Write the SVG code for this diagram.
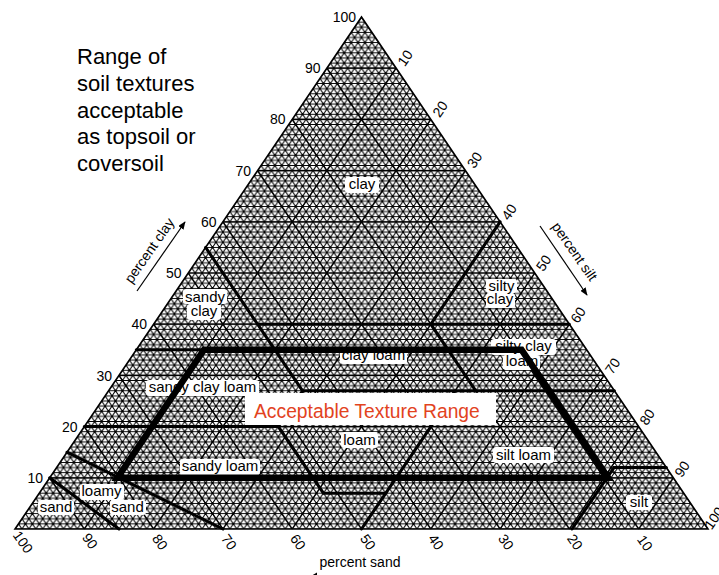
<svg xmlns="http://www.w3.org/2000/svg" width="719" height="575" viewBox="0 0 719 575">
<style>
.grid{stroke:#000;stroke-width:1.2;fill:none}
.bnd{stroke:#000;stroke-width:3;fill:none;stroke-linecap:round}
.acc{stroke:#000;stroke-width:6.5;fill:none;stroke-linejoin:miter}
.num{font-family:"Liberation Sans",Arial,sans-serif;font-size:14px;fill:#000}
.lbl{font-family:"Liberation Sans",Arial,sans-serif;font-size:15px;fill:#000;text-anchor:middle}
.ax{font-family:"Liberation Sans",Arial,sans-serif;font-size:14px;fill:#000;text-anchor:middle}
.bg{fill:#fff}
.title{font-family:"Liberation Sans",Arial,sans-serif;font-size:22px;fill:#000}
</style>
<defs>
<pattern id="mesh" patternUnits="userSpaceOnUse" x="15" y="529" width="6.93" height="10.24">
<path d="M-1,0H8 M-1,5.12H8 M-1,10.24H8 M-6.93,10.24L6.93,-10.24 M-6.93,20.48L13.86,-10.24 M0,20.48L13.86,0 M-6.93,-10.24L13.86,20.48 M0,-10.24L13.86,10.24 M-6.93,0L6.93,20.48" stroke="#000" stroke-width="1.05" fill="none"/>
</pattern>
<marker id="ah" viewBox="0 0 10 8" refX="9" refY="4" markerWidth="8" markerHeight="6.4" markerUnits="userSpaceOnUse" orient="auto">
<path d="M0,0L10,4L0,8z" fill="#000"/>
</marker>
</defs>
<rect width="719" height="575" fill="#fff"/>

<g id="title">
<text class="title" x="77" y="64">Range of</text>
<text class="title" x="77" y="91">soil textures</text>
<text class="title" x="77" y="117.5">acceptable</text>
<text class="title" x="77" y="144">as topsoil or</text>
<text class="title" x="77" y="171">coversoil</text>
</g>

<g id="triangle">
<polygon points="361.5,17 15,529 708,529" fill="url(#mesh)"/>
<path class="grid" d="M49.65,477.8H673.35 M84.3,426.6H638.7 M118.95,375.4H604.05 M153.6,324.2H569.4 M188.25,273H534.75 M222.9,221.8H500.1 M257.55,170.6H465.45 M292.2,119.4H430.8 M326.85,68.2H396.15
M84.3,529L396.15,68.2 M153.6,529L430.8,119.4 M222.9,529L465.45,170.6 M292.2,529L500.1,221.8 M361.5,529L534.75,273 M430.8,529L569.4,324.2 M500.1,529L604.05,375.4 M569.4,529L638.7,426.6 M638.7,529L673.35,477.8
M84.3,529L49.65,477.8 M153.6,529L84.3,426.6 M222.9,529L118.95,375.4 M292.2,529L153.6,324.2 M361.5,529L188.25,273 M430.8,529L222.9,221.8 M500.1,529L257.55,170.6 M569.4,529L292.2,119.4 M638.7,529L326.85,68.2"/>
<polygon points="361.5,17 15,529 708,529" fill="none" stroke="#000" stroke-width="1.6"/>
</g>

<g id="connectors">
<path class="bnd" d="M118.95,529L49.65,477.8 M222.9,529L66.98,452.2 M84.3,426.6H278.3 L323.4,493.2 H385.8 L361.5,529 M385.8,493.2L455.1,390.8 M278.3,426.6L302.6,390.8 H614.4 M302.6,390.8L274.9,349.8 M136.3,349.8H274.9 L205.6,247.4 M257.6,324.2H569.4 M475.8,390.8L430.8,324.2 L500.1,221.8 M572,529L614,467.6 H666.4"/>
</g>

<g id="clay-scale">
<text class="num" x="356" y="22" text-anchor="end">100</text>
<text class="num" x="320.5" y="73" text-anchor="end">90</text>
<text class="num" x="285.5" y="124" text-anchor="end">80</text>
<text class="num" x="251" y="175.5" text-anchor="end">70</text>
<text class="num" x="216.5" y="227" text-anchor="end">60</text>
<text class="num" x="181.5" y="278" text-anchor="end">50</text>
<text class="num" x="147" y="329" text-anchor="end">40</text>
<text class="num" x="112" y="380.5" text-anchor="end">30</text>
<text class="num" x="77.5" y="431.5" text-anchor="end">20</text>
<text class="num" x="43" y="483" text-anchor="end">10</text>
</g>
<g id="silt-scale">
<text class="num" text-anchor="middle" y="5" transform="translate(405,58) rotate(-55)">10</text>
<text class="num" text-anchor="middle" y="5" transform="translate(440,109) rotate(-55)">20</text>
<text class="num" text-anchor="middle" y="5" transform="translate(474.5,160) rotate(-55)">30</text>
<text class="num" text-anchor="middle" y="5" transform="translate(509,212) rotate(-55)">40</text>
<text class="num" text-anchor="middle" y="5" transform="translate(543.5,263) rotate(-55)">50</text>
<text class="num" text-anchor="middle" y="5" transform="translate(578,315) rotate(-55)">60</text>
<text class="num" text-anchor="middle" y="5" transform="translate(612.5,366) rotate(-55)">70</text>
<text class="num" text-anchor="middle" y="5" transform="translate(647,417) rotate(-55)">80</text>
<text class="num" text-anchor="middle" y="5" transform="translate(682,469) rotate(-55)">90</text>
<text class="num" text-anchor="middle" y="5" transform="translate(714,518) rotate(-55)">100</text>
</g>
<g id="sand-scale">
<text class="num" text-anchor="middle" y="5" transform="translate(23,542) rotate(55)">100</text>
<text class="num" text-anchor="middle" y="5" transform="translate(90,541) rotate(55)">90</text>
<text class="num" text-anchor="middle" y="5" transform="translate(160,542) rotate(55)">80</text>
<text class="num" text-anchor="middle" y="5" transform="translate(229,542) rotate(55)">70</text>
<text class="num" text-anchor="middle" y="5" transform="translate(298,542) rotate(55)">60</text>
<text class="num" text-anchor="middle" y="5" transform="translate(368,542) rotate(55)">50</text>
<text class="num" text-anchor="middle" y="5" transform="translate(436,542) rotate(55)">40</text>
<text class="num" text-anchor="middle" y="5" transform="translate(506,542) rotate(55)">30</text>
<text class="num" text-anchor="middle" y="5" transform="translate(575,542) rotate(55)">20</text>
<text class="num" text-anchor="middle" y="5" transform="translate(645,543) rotate(55)">10</text>
</g>

<g id="axis-titles">
<text class="ax" y="4" transform="translate(150,251) rotate(-55)">percent clay</text>
<line x1="137" y1="291" x2="185" y2="222" stroke="#000" stroke-width="1.2" marker-end="url(#ah)"/>
<text class="ax" y="4" transform="translate(574,252) rotate(55)">percent silt</text>
<line x1="540" y1="226" x2="587" y2="295" stroke="#000" stroke-width="1.2" marker-end="url(#ah)"/>
<text class="ax" x="360" y="567">percent sand</text>
<path d="M306,579L317,572.5L317,585.5z" fill="#000"/>
</g>

<g id="n-clay"><rect class="bg" x="345" y="177" width="34" height="16" rx="3"/><text class="lbl" x="362" y="189">clay</text></g>
<g id="n-silty-clay"><rect class="bg" x="486" y="279" width="31" height="14" rx="3"/><rect class="bg" x="486" y="293" width="29" height="15" rx="3"/><text class="lbl" x="501.5" y="290.5">silty</text><text class="lbl" x="500" y="304">clay</text></g>
<g id="n-sandy-clay"><rect class="bg" x="183" y="289" width="44" height="15" rx="3"/><rect class="bg" x="187" y="304" width="34" height="16" rx="3"/><text class="lbl" x="205" y="301.5">sandy</text><text class="lbl" x="204" y="316">clay</text></g>
<g id="n-clay-loam"><rect class="bg" x="340" y="348" width="67" height="16" rx="3"/><text class="lbl" x="373.5" y="360">clay loam</text></g>
<g id="n-silty-clay-loam"><rect class="bg" x="491" y="339" width="65" height="16" rx="3"/><rect class="bg" x="503" y="355" width="37" height="15" rx="3"/><text class="lbl" x="523.5" y="351">silty clay</text><text class="lbl" x="522" y="366">loam</text></g>
<g id="n-sandy-clay-loam"><rect class="bg" x="146" y="380" width="113" height="16" rx="3"/><text class="lbl" x="202.5" y="392">sandy clay loam</text></g>
<g id="n-loam"><rect class="bg" x="341" y="432" width="37" height="16" rx="3"/><text class="lbl" x="359.5" y="444.5">loam</text></g>
<g id="n-silt-loam"><rect class="bg" x="493" y="447" width="61" height="16" rx="3"/><text class="lbl" x="523.5" y="459.5">silt loam</text></g>
<g id="n-sandy-loam"><rect class="bg" x="180" y="459" width="80" height="16" rx="3"/><text class="lbl" x="220" y="471">sandy loam</text></g>
<g id="n-loamy-sand"><rect class="bg" x="80" y="484" width="44" height="16" rx="3"/><text class="lbl" x="101.5" y="496">loamy</text><rect class="bg" x="110" y="500" width="36" height="15" rx="3"/><text class="lbl" x="127.5" y="511.5">sand</text></g>
<g id="n-sand"><rect class="bg" x="38" y="500" width="36" height="15" rx="3"/><text class="lbl" x="56" y="511.5">sand</text></g>
<g id="n-silt"><rect class="bg" x="626" y="495" width="26" height="15" rx="3"/><text class="lbl" x="639" y="506.5">silt</text></g>

<g id="acceptable-range">
<polygon class="acc" points="204,349.8 117.5,477.8 608,477.8 521.5,349.8"/>
</g>
<g id="n-acceptable">
<rect x="245" y="393" width="251" height="32" fill="#fff"/>
<text x="254" y="418" font-family="Liberation Sans, Arial, sans-serif" font-size="19.3" fill="#e2431e">Acceptable Texture Range</text>
</g>
</svg>
